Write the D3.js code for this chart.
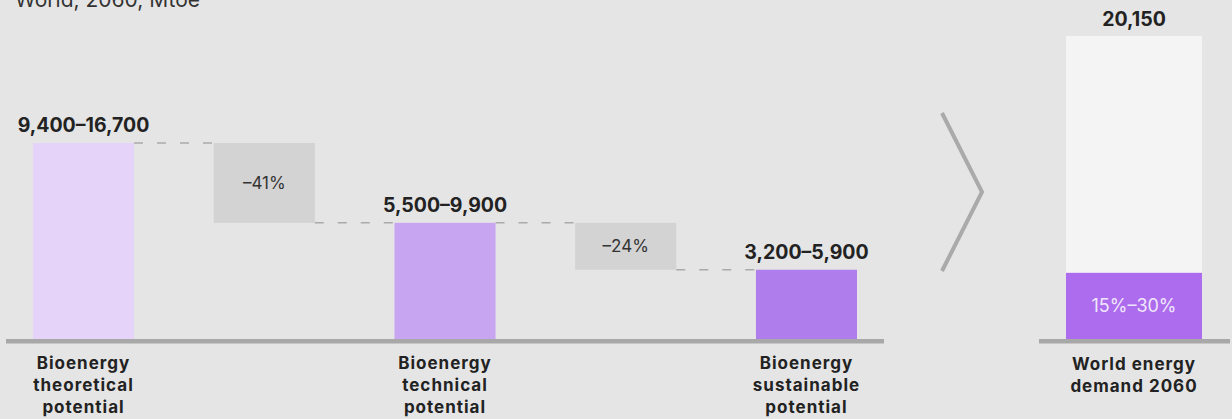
<html>
  <head>
    <script src="https://cdn.jsdelivr.net/npm/d3@7"></script>
    <style>
      body { margin: 0; background: #e5e5e5; }
      svg { display: block; font-family: Inter, "Noto Sans", sans-serif; }
    </style>
  </head>
  <body>
    <svg id="chart" width="1232" height="419"></svg>
    <script>
      // potentials, Mtoe (range low-high; bars drawn to the high end)
      var categories = ["Bioenergy theoretical potential", "Bioenergy technical potential", "Bioenergy sustainable potential"];
      var lowValues = [9400, 5500, 3200];
      var highValues = [16700, 9900, 5900];
      var valueLabels = ["9,400–16,700", "5,500–9,900", "3,200–5,900"];
      var dropLabels = ["–41%", "–24%"];
      var barColors = ["#e6d3fa", "#c8a5f1", "#b07ded"];

      var demandCategory = "World energy demand 2060";
      var demandValue = 20150;
      var demandLabel = "20,150";
      var bioShareValue = 4400; // 15%-30% segment, estimated height
      var bioShareLabel = "15%–30%";
      var titleText = "World, 2060, Mtoe";

      var svg = d3.select("#chart");
      var base = 339;

      // left panel
      var steps = ["b0", "d0", "b1", "d1", "b2"];
      var x = d3.scaleBand().domain(steps).range([33, 857]).paddingInner(0.441).paddingOuter(0);
      var y = d3.scaleLinear().domain([0, 16700]).range([base, 143]);

      svg.append("text").attr("x", 200).attr("y", 7).attr("text-anchor", "end")
        .attr("font-size", 21).attr("fill", "#333").text(titleText);

      // drop boxes
      dropLabels.forEach(function (lab, i) {
        var key = "d" + i;
        svg.append("rect").attr("x", x(key)).attr("width", x.bandwidth())
          .attr("y", y(highValues[i])).attr("height", y(highValues[i + 1]) - y(highValues[i]))
          .attr("fill", "#d3d3d3");
        svg.append("text").attr("x", x(key) + x.bandwidth() / 2)
          .attr("y", (y(highValues[i]) + y(highValues[i + 1])) / 2)
          .attr("dy", "0.35em").attr("text-anchor", "middle")
          .attr("font-size", 17).attr("fill", "#333").text(lab);
        // dashed connectors
        svg.append("line").attr("x1", x("b" + i) + x.bandwidth()).attr("x2", x(key))
          .attr("y1", y(highValues[i])).attr("y2", y(highValues[i]))
          .attr("stroke", "#aaa").attr("stroke-width", 1.5).attr("stroke-dasharray", "9,14");
        svg.append("line").attr("x1", x(key) + x.bandwidth()).attr("x2", x("b" + (i + 1)))
          .attr("y1", y(highValues[i + 1])).attr("y2", y(highValues[i + 1]))
          .attr("stroke", "#aaa").attr("stroke-width", 1.5).attr("stroke-dasharray", "9,14");
      });

      // bars
      categories.forEach(function (c, i) {
        var key = "b" + i;
        var cx = x(key) + x.bandwidth() / 2;
        svg.append("rect").attr("x", x(key)).attr("width", x.bandwidth())
          .attr("y", y(highValues[i])).attr("height", base - y(highValues[i]))
          .attr("fill", barColors[i]);
        svg.append("text").attr("x", cx).attr("y", y(highValues[i]) - 11)
          .attr("text-anchor", "middle").attr("font-size", 19.5).attr("font-weight", 700)
          .attr("fill", "#222").text(valueLabels[i]);
        var words = c.split(" ");
        var t = svg.append("text").attr("text-anchor", "middle").attr("font-size", 17)
          .attr("font-weight", 700).attr("letter-spacing", 1).attr("fill", "#222");
        words.forEach(function (w, j) {
          t.append("tspan").attr("x", cx).attr("y", 369 + j * 22).text(w);
        });
      });

      svg.append("rect").attr("x", 6).attr("y", base).attr("width", 878).attr("height", 4.5).attr("fill", "#a8a8a8");

      // chevron
      svg.append("path").attr("d", d3.line()([[942, 113], [982, 192], [942, 271]]))
        .attr("fill", "none").attr("stroke", "#aaa").attr("stroke-width", 4);

      // right panel
      var y2 = d3.scaleLinear().domain([0, demandValue]).range([base, 36]);
      var x2 = d3.scaleBand().domain([demandCategory]).range([1066, 1202]);
      var rcx = x2(demandCategory) + x2.bandwidth() / 2;
      svg.append("rect").attr("x", x2(demandCategory)).attr("width", x2.bandwidth())
        .attr("y", y2(demandValue)).attr("height", base - y2(demandValue)).attr("fill", "#f4f4f4");
      svg.append("rect").attr("x", x2(demandCategory)).attr("width", x2.bandwidth())
        .attr("y", y2(bioShareValue)).attr("height", base - y2(bioShareValue)).attr("fill", "#ad6ced");
      svg.append("text").attr("x", rcx).attr("y", (y2(bioShareValue) + base) / 2).attr("dy", "0.35em")
        .attr("text-anchor", "middle").attr("font-size", 18).attr("fill", "#f0e6fb").text(bioShareLabel);
      svg.append("text").attr("x", rcx).attr("y", y2(demandValue) - 10)
        .attr("text-anchor", "middle").attr("font-size", 19.5).attr("font-weight", 700)
        .attr("fill", "#222").text(demandLabel);
      svg.append("rect").attr("x", 1039).attr("y", base).attr("width", 191).attr("height", 4.5).attr("fill", "#a8a8a8");
      var rt = svg.append("text").attr("text-anchor", "middle").attr("font-size", 17)
        .attr("font-weight", 700).attr("letter-spacing", 1).attr("fill", "#222");
      ["World energy", "demand 2060"].forEach(function (w, j) {
        rt.append("tspan").attr("x", rcx).attr("y", 370 + j * 22).text(w);
      });
    </script>
  </body>
</html>
